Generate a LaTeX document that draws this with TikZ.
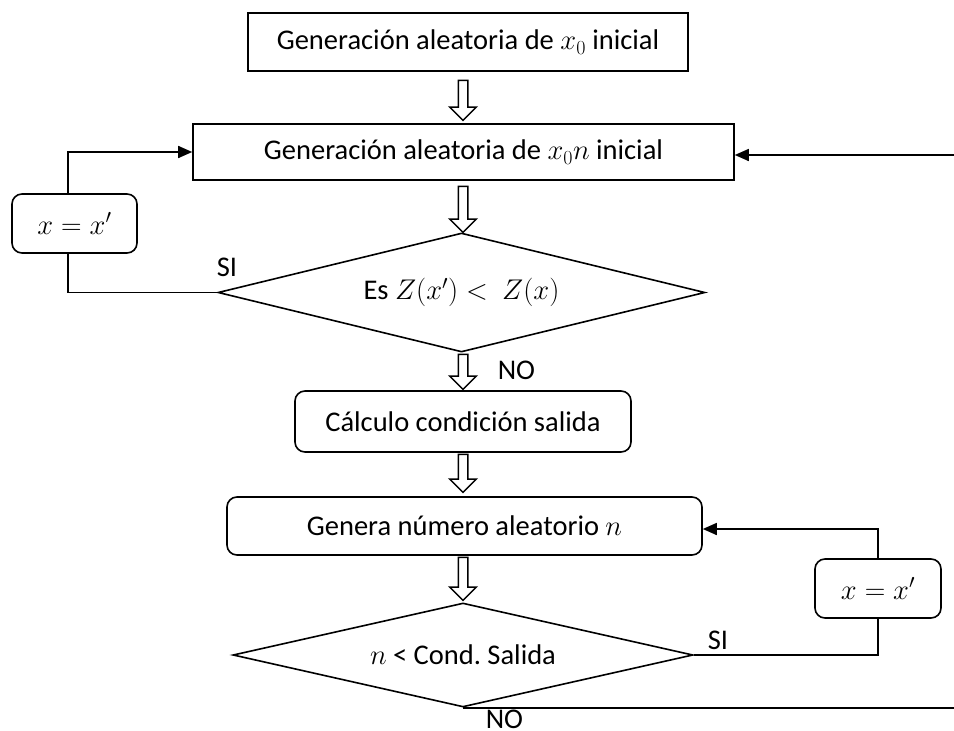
\RequirePackage{fix-cm}
\documentclass[tikz,border=0pt]{standalone}
\usepackage{fontspec}
\setmainfont{Carlito}
\usepackage{tikz}
\usetikzlibrary{arrows.meta, positioning, shapes.geometric, shapes.arrows}

\begin{document}
\begin{tikzpicture}[x=1pt, y=-1pt, line width=1.6pt,
    every node/.style={font=\fontsize{28.5}{34}\selectfont},
    caja/.style={draw, inner sep=0pt},
    redondeada/.style={draw, rounded corners=10pt, inner sep=0pt},
    rombo/.style={draw, diamond, inner sep=0pt},
    rotulo/.style={anchor=base west, inner sep=0pt},
    hueca/.style={draw, single arrow, shape border rotate=270, inner sep=4pt,
                  single arrow head extend=8.5pt, line width=1.5pt},
    flecha/.style={-{Triangle[length=14pt, width=12pt]}}]
  \useasboundingbox (0,0) rectangle (954,731);
  \node[caja, minimum width=440pt, minimum height=58pt] (ini) at (468,42)
        {Generación aleatoria de $x_0$ inicial};
  \node[caja, minimum width=541pt, minimum height=56pt] (gen) at (463.5,152)
        {Generación aleatoria de $x_0n$ inicial};
  \node[rombo, aspect=4.09, minimum width=487pt, minimum height=119pt] (comp)
        at (461.5,292.5) {Es $Z(x')<\ Z(x)$};
  \node[redondeada, minimum width=336pt, minimum height=61pt] (calc) at (463,421.5)
        {Cálculo condición salida};
  \node[redondeada, minimum width=475pt, minimum height=58pt] (num) at (464.5,526)
        {Genera número aleatorio $n$};
  \node[rombo, aspect=4.42, minimum width=460pt, minimum height=104pt] (cond)
        at (463,655) {$n$ < Cond.\ Salida};
  \node[redondeada, minimum width=125pt, minimum height=59pt] (actI) at (74.5,223.5)
        {$x=x'$};
  \node[redondeada, minimum width=126pt, minimum height=59pt] (actD) at (878,588.5)
        {$x=x'$};

  \node[hueca, minimum height=40pt] (h1) at (463,98) {};
  \node[hueca, minimum height=46pt] (h2) at (463,207) {};
  \node[hueca, minimum height=35pt] (h3) at (463,369.5) {};
  \node[hueca, minimum height=38pt] (h4) at (463,471) {};
  \node[hueca, minimum height=43pt] (h5) at (463,576.5) {};

  \draw[flecha] ([xshift=-6.5pt]actI.north) |- (gen.west);
  \draw (comp.west) -| ([xshift=-6.5pt]actI.south);
  \node[rotulo] (si1) at (216,276) {SI};
  \node[rotulo] (no1) at (497,379) {NO};
  \coordinate (entrada) at (954,155);
  \draw[flecha] (entrada) -- (entrada -| gen.east);
  \draw (cond.east) -| (actD.south);
  \draw[flecha] (actD.north) |- ([yshift=-3pt]num.east);
  \node[rotulo] (si2) at (707,649) {SI};
  \coordinate (salida) at (954,707);
  \draw (cond.south) -- (cond.south -| salida);
  \node[rotulo] (no2) at (485,728.5) {NO};
\end{tikzpicture}
\end{document}
